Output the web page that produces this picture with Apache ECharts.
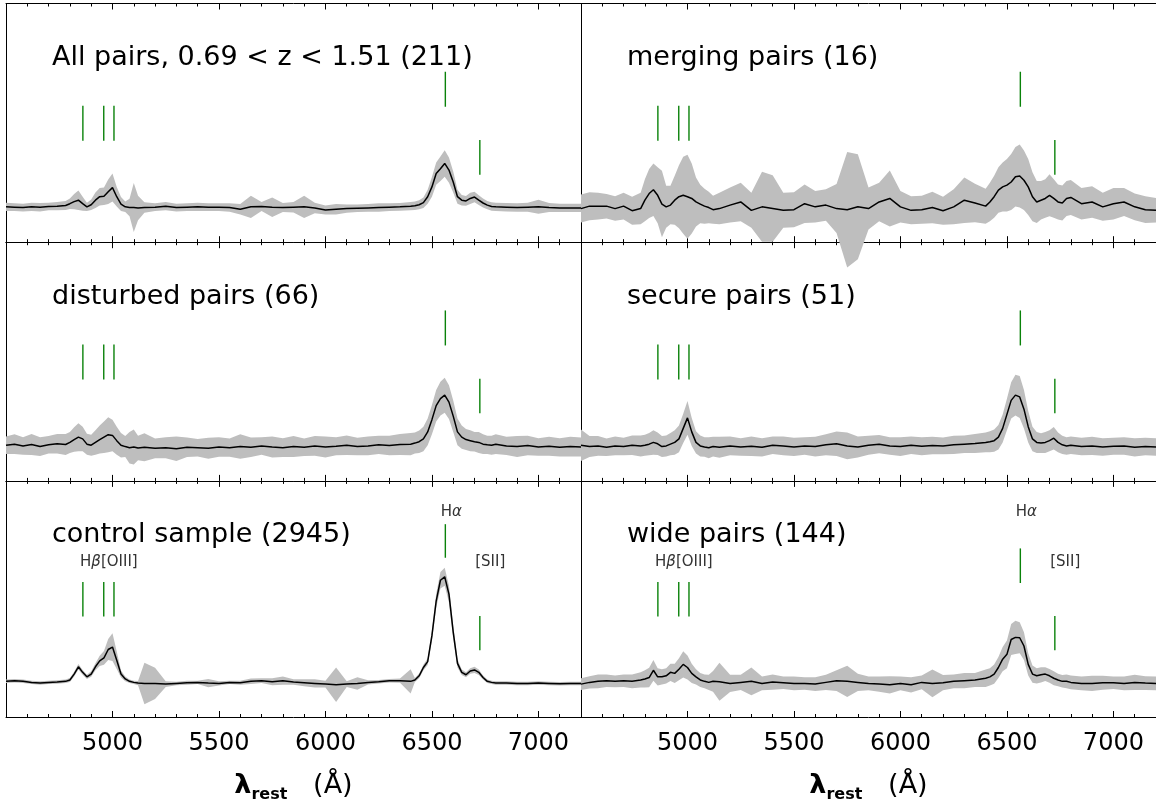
<!DOCTYPE html>
<html><head><meta charset="utf-8">
<script src="https://cdn.jsdelivr.net/npm/echarts@6/dist/echarts.min.js"></script>
<style>html,body{margin:0;padding:0;background:#fff}#c{width:1156px;height:804px}</style>
</head><body><div id="c"></div>
<script>
// ---------- DATA ----------
const wave = [
 4500,4540,4580,4620,4660,4700,4740,4780,
 4800,4820,4840,4860,4880,4900,4920,4940,4960,4980,5000,5020,5040,5060,5080,5100,5120,
 5150,
 5200,5250,5300,5350,5400,5450,5500,5550,5600,5650,5700,5750,5800,5850,5900,5950,6000,6050,6100,6150,6200,6250,6300,6350,6400,
 6420,6440,6460,6480,6500,6520,6540,6560,6580,6600,6620,6640,6660,6680,6700,6720,6740,6760,6780,6800,
 6850,6900,6950,7000,7050,7100,7150,7200
];
const panelTitles = [
 'All pairs, 0.69 < z < 1.51 (211)', 'merging pairs (16)',
 'disturbed pairs (66)', 'secure pairs (51)',
 'control sample (2945)', 'wide pairs (144)'
];
// mean normalised flux (continuum = 1) and 1-sigma spread
const meanAll = [
 1.01,1.00,0.99,1.01,1.00,1.02,1.03,1.05,
 1.10,1.16,1.20,1.10,1.01,1.07,1.20,1.30,1.31,1.44,1.56,1.30,1.09,1.01,0.99,0.99,0.98,
 0.99,
 1.00,1.03,0.99,1.00,1.01,1.00,1.00,0.99,0.94,1.01,1.02,1.00,0.99,1.00,1.01,0.98,0.92,0.94,0.96,0.97,0.98,0.99,1.00,1.01,1.03,
 1.04,1.07,1.13,1.30,1.58,1.96,2.10,2.25,2.06,1.72,1.30,1.20,1.18,1.25,1.29,1.20,1.12,1.06,1.02,1.01,
 1.00,0.99,1.00,1.01,0.99,0.98,0.98,0.98
];
const sigAll = [
 0.12,0.11,0.11,0.12,0.12,0.11,0.12,0.13,
 0.15,0.22,0.28,0.20,0.12,0.15,0.22,0.25,0.25,0.35,0.40,0.28,0.20,0.15,0.25,0.70,0.35,
 0.15,
 0.11,0.12,0.11,0.11,0.12,0.11,0.11,0.12,0.15,0.32,0.13,0.28,0.13,0.15,0.32,0.15,0.13,0.15,0.12,0.11,0.11,0.12,0.11,0.11,0.12,
 0.12,0.13,0.15,0.20,0.28,0.32,0.35,0.38,0.36,0.30,0.20,0.15,0.14,0.16,0.15,0.14,0.13,0.12,0.12,0.12,
 0.12,0.12,0.13,0.20,0.13,0.12,0.12,0.12
];
const meanMerg = [
 0.96,1.03,1.03,1.03,0.96,1.03,0.90,0.96,
 1.20,1.39,1.50,1.34,1.09,1.01,1.06,1.20,1.30,1.34,1.30,1.25,1.15,1.09,1.03,0.99,0.93,
 0.96,
 1.06,1.15,0.91,1.01,0.96,0.91,0.93,1.10,1.01,1.06,0.96,0.93,1.01,0.96,1.15,1.25,1.01,0.91,0.93,0.99,0.90,1.01,1.20,1.12,1.03,
 1.15,1.30,1.49,1.58,1.63,1.72,1.87,1.89,1.77,1.58,1.30,1.15,1.20,1.25,1.34,1.25,1.15,1.12,1.25,1.28,
 1.10,1.15,1.01,1.10,1.15,1.01,0.93,0.91
];
const sigMerg = [
 0.40,0.40,0.38,0.35,0.35,0.38,0.40,0.45,
 0.60,0.70,0.75,0.80,0.95,0.60,0.55,0.70,0.90,1.10,1.20,1.00,0.70,0.55,0.50,0.45,0.40,
 0.45,
 0.50,0.55,0.50,1.00,0.95,0.50,0.50,0.55,0.45,0.45,0.70,1.65,1.50,0.60,0.55,0.80,0.45,0.40,0.40,0.45,0.40,0.50,0.65,0.55,0.50,
 0.55,0.60,0.65,0.70,0.75,0.80,0.85,0.90,0.85,0.80,0.70,0.60,0.55,0.55,0.60,0.55,0.50,0.50,0.50,0.50,
 0.45,0.45,0.40,0.45,0.40,0.38,0.38,0.35
];
const meanDist = [
 1.02,1.05,1.00,1.04,0.98,1.03,1.06,1.04,
 1.10,1.18,1.25,1.20,1.05,1.02,1.10,1.18,1.25,1.32,1.30,1.15,1.02,0.98,0.95,0.97,0.94,
 0.96,
 0.93,0.95,0.92,0.96,0.95,0.93,0.97,0.95,0.98,0.96,1.00,0.97,0.95,0.98,0.96,1.00,0.97,0.99,1.02,0.98,1.00,1.03,1.01,1.04,1.05,
 1.08,1.12,1.20,1.40,1.75,2.15,2.35,2.45,2.25,1.85,1.40,1.25,1.18,1.15,1.12,1.10,1.05,1.03,1.02,1.05,
 1.00,0.98,1.01,0.97,0.99,0.96,0.98,0.97
];
const sigDist = [
 0.25,0.28,0.25,0.30,0.27,0.25,0.28,0.30,
 0.30,0.35,0.40,0.35,0.30,0.30,0.35,0.40,0.45,0.50,0.45,0.40,0.35,0.30,0.45,0.50,0.35,
 0.40,
 0.28,0.30,0.35,0.28,0.25,0.30,0.28,0.26,0.35,0.28,0.25,0.30,0.27,0.30,0.25,0.28,0.30,0.26,0.28,0.25,0.27,0.26,0.28,0.30,0.32,
 0.30,0.32,0.35,0.38,0.42,0.45,0.48,0.50,0.48,0.45,0.38,0.33,0.30,0.30,0.28,0.30,0.28,0.26,0.27,0.28,
 0.26,0.30,0.28,0.25,0.27,0.26,0.28,0.27
];
const meanSec = [
 1.02,0.98,1.00,0.96,1.00,0.98,1.02,1.00,
 1.02,1.05,1.10,1.06,0.98,1.00,1.05,1.10,1.20,1.50,1.80,1.40,1.10,1.00,0.97,0.95,0.98,
 0.96,
 1.00,0.97,0.99,0.96,1.02,1.00,0.97,1.00,0.98,1.03,1.06,1.00,0.97,1.02,1.05,1.00,0.98,1.02,0.99,1.01,1.00,1.03,1.05,1.07,1.10,
 1.12,1.15,1.25,1.50,1.90,2.30,2.45,2.40,2.05,1.55,1.20,1.10,1.08,1.10,1.15,1.22,1.10,1.03,1.00,1.02,
 0.98,1.00,0.97,0.99,1.00,0.96,0.98,0.97
];
const sigSec = [
 0.45,0.30,0.28,0.25,0.27,0.25,0.28,0.30,
 0.30,0.32,0.35,0.32,0.30,0.30,0.32,0.35,0.38,0.42,0.48,0.40,0.32,0.30,0.28,0.30,0.28,
 0.30,
 0.27,0.25,0.28,0.26,0.25,0.27,0.26,0.25,0.28,0.30,0.35,0.38,0.30,0.27,0.26,0.25,0.27,0.25,0.26,0.25,0.24,0.26,0.25,0.27,0.28,
 0.30,0.32,0.35,0.40,0.45,0.52,0.58,0.60,0.55,0.45,0.35,0.30,0.28,0.30,0.30,0.32,0.28,0.26,0.25,0.25,
 0.25,0.26,0.25,0.24,0.25,0.26,0.25,0.25
];
const meanCtrl = [
 1.03,1.05,1.03,1.00,0.98,1.00,1.01,1.03,
 1.07,1.24,1.45,1.29,1.16,1.24,1.45,1.62,1.71,1.95,2.02,1.64,1.24,1.10,1.03,1.00,0.98,
 0.97,
 0.97,0.95,0.97,0.99,1.00,0.98,0.97,1.00,0.99,1.03,1.05,1.02,1.05,1.01,0.99,0.97,0.95,0.93,0.95,0.97,1.00,1.02,1.05,1.05,1.03,
 1.07,1.19,1.43,1.60,2.35,3.35,3.95,4.05,3.55,2.45,1.55,1.29,1.22,1.33,1.36,1.29,1.14,1.03,1.00,0.98,
 0.98,0.97,0.97,0.98,0.97,0.96,0.97,0.97
];
const sigCtrl = [
 0.05,0.05,0.05,0.05,0.05,0.05,0.05,0.05,
 0.06,0.07,0.08,0.07,0.06,0.08,0.10,0.15,0.20,0.30,0.40,0.25,0.10,0.07,0.05,0.05,0.06,
 0.60,
 0.45,0.08,0.05,0.06,0.05,0.12,0.06,0.05,0.06,0.08,0.07,0.10,0.12,0.08,0.10,0.12,0.10,0.50,0.08,0.18,0.06,0.05,0.05,0.06,0.35,
 0.06,0.07,0.08,0.10,0.14,0.20,0.24,0.26,0.24,0.18,0.12,0.08,0.07,0.08,0.09,0.08,0.06,0.05,0.05,0.05,
 0.05,0.05,0.05,0.05,0.05,0.05,0.05,0.05
];
const meanWide = [
 0.95,1.00,1.03,1.05,1.03,1.05,1.03,1.07,
 1.10,1.14,1.35,1.16,1.16,1.19,1.29,1.26,1.38,1.52,1.43,1.26,1.16,1.07,1.03,1.00,1.03,
 1.02,
 0.97,1.00,1.03,0.97,1.01,0.99,0.97,0.97,0.95,1.00,1.05,1.03,1.00,0.97,0.95,0.93,0.97,0.93,1.00,0.97,0.99,1.03,1.05,1.07,1.12,
 1.16,1.24,1.43,1.67,1.81,2.24,2.30,2.29,2.05,1.52,1.24,1.19,1.22,1.24,1.19,1.12,1.07,1.03,1.03,1.00,
 0.97,0.97,0.99,0.99,0.97,1.00,0.98,0.97
];
const sigWide = [
 0.17,0.18,0.20,0.18,0.17,0.18,0.20,0.22,
 0.25,0.28,0.30,0.25,0.22,0.22,0.25,0.28,0.32,0.38,0.35,0.28,0.22,0.20,0.20,0.22,0.30,
 0.55,
 0.25,0.22,0.40,0.20,0.22,0.18,0.20,0.18,0.20,0.22,0.30,0.45,0.25,0.20,0.22,0.25,0.20,0.22,0.20,0.40,0.22,0.20,0.22,0.20,0.25,
 0.25,0.28,0.30,0.35,0.40,0.45,0.48,0.45,0.40,0.32,0.25,0.22,0.22,0.20,0.20,0.20,0.18,0.18,0.20,0.20,
 0.20,0.22,0.20,0.18,0.20,0.22,0.20,0.20
];
const panelMeans = [meanAll, meanMerg, meanDist, meanSec, meanCtrl, meanWide];
const panelSigs  = [sigAll, sigMerg, sigDist, sigSec, sigCtrl, sigWide];

// emission-line markers: Hbeta, [OIII]4959, [OIII]5007, Halpha, [SII]
const markerWaves  = [4861, 4959, 5007, 6563, 6725];
const markerBottom = [2.90, 2.90, 2.90, 3.87, 1.93];
const markerTop    = [3.90, 3.90, 3.90, 4.87, 2.92];
const haMarkerBottom = [3.87, 3.87, 3.87, 3.87, 4.60, 3.87];
const haMarkerTop    = [4.87, 4.87, 4.87, 4.87, 5.57, 4.87];
const lineLabels     = ['Hβ[OIII]', 'Hα', '[SII]'];
const lineLabelWave  = [4983, 6591, 6774];
const lineLabelFlux  = [4.47, 5.93, 4.47];
const labelledPanels = [4, 5];
const xTicks = [5000, 5500, 6000, 6500, 7000];

// ---------- LAYOUT ----------
const colLeft = [6, 581];
const colWidth = [575, 576];
const rowTop = [3.5, 242.2, 480.9];
const gridH = 238.7;
const yMax = gridH / 35;
const FONT = '"DejaVu Sans", sans-serif';

const grids = [], xAxes = [], yAxes = [], series = [], titles = [];
for (let g = 0; g < 6; g++) {
  const row = Math.floor(g / 2), col = g % 2;
  grids.push({left: colLeft[col], top: rowTop[row], width: colWidth[col], height: gridH, containLabel: false});
  const bottomRow = row === 2;
  const common = {
    gridIndex: g, type: 'value', min: 4500, max: 7200, interval: 500,
    axisLine: {show: true, onZero: false, lineStyle: {color: '#000', width: 1}},
    axisTick: {show: true, inside: true, length: 6, lineStyle: {color: '#000', width: 1}},
    minorTick: {show: true, splitNumber: 5, length: 3, lineStyle: {color: '#000', width: 1}},
    splitLine: {show: false}, minorSplitLine: {show: false}
  };
  xAxes.push(Object.assign({}, common, {
    position: 'bottom',
    axisLabel: {show: bottomRow, margin: 15, fontSize: 24, color: '#000', fontFamily: FONT,
      showMinLabel: false, showMaxLabel: false,
      formatter: v => xTicks.indexOf(v) >= 0 ? String(v) : ''},
    name: bottomRow ? '{l|λ}{s|rest}{p|   (Å)}' : '',
    nameLocation: 'middle', nameGap: 52,
    nameTextStyle: {fontFamily: FONT, color: '#000', rich: {
      l: {fontSize: 27, fontWeight: 'bold', fontFamily: FONT, lineHeight: 34, verticalAlign: 'middle'},
      s: {fontSize: 16, fontWeight: 'bold', fontFamily: FONT, lineHeight: 34, verticalAlign: 'bottom'},
      p: {fontSize: 27, fontFamily: FONT, lineHeight: 34, verticalAlign: 'middle'}
    }}
  }));
  xAxes.push(Object.assign({}, common, {position: 'top', axisLabel: {show: false}}));
  const yCommon = {gridIndex: g, type: 'value', min: 0, max: yMax,
    axisLine: {show: true, onZero: false, lineStyle: {color: '#000', width: 1}},
    axisTick: {show: false}, axisLabel: {show: false}, splitLine: {show: false}};
  yAxes.push(Object.assign({}, yCommon, {position: 'left'}));
  yAxes.push(Object.assign({}, yCommon, {position: 'right'}));

  titles.push({text: panelTitles[g], left: colLeft[col] + 46, top: rowTop[row] + 41, padding: 0,
    textStyle: {fontSize: 27, fontWeight: 'normal', fontFamily: FONT, color: '#000'}});

  const mean = panelMeans[g], sig = panelSigs[g];
  const n = Math.min(wave.length, mean.length, sig.length);
  // grey spread band
  series.push({
    type: 'custom', xAxisIndex: 2 * g, yAxisIndex: 2 * g, silent: true, clip: false, z: 1,
    data: [[wave[0], mean[0]]],
    renderItem: (params, api) => {
      const up = [], lo = [];
      for (let i = 0; i < n; i++) {
        up.push(api.coord([wave[i], mean[i] + sig[i]]));
        lo.push(api.coord([wave[i], mean[i] - sig[i]]));
      }
      return {type: 'polygon', shape: {points: up.concat(lo.reverse())}, style: {fill: '#bebebe'}};
    }
  });
  // mean spectrum
  series.push({
    type: 'line', xAxisIndex: 2 * g, yAxisIndex: 2 * g, silent: true, z: 3,
    showSymbol: false, symbol: 'none', animation: false,
    lineStyle: {color: '#000', width: 1.5},
    data: wave.slice(0, n).map((w, i) => [w, mean[i]])
  });
  // green line markers
  series.push({
    type: 'custom', xAxisIndex: 2 * g, yAxisIndex: 2 * g, silent: true, z: 4,
    data: markerWaves.map((w, k) => [w, k === 3 ? haMarkerBottom[g] : markerBottom[k], k === 3 ? haMarkerTop[g] : markerTop[k]]),
    encode: {x: 0, y: [1, 2]},
    renderItem: (params, api) => {
      const p0 = api.coord([api.value(0), api.value(1)]);
      const p1 = api.coord([api.value(0), api.value(2)]);
      return {type: 'line', shape: {x1: p0[0], y1: p0[1], x2: p0[0], y2: p1[1]},
        style: {stroke: '#0a820a', lineWidth: 1.4}};
    }
  });
  if (labelledPanels.indexOf(g) >= 0) {
    series.push({
      type: 'custom', xAxisIndex: 2 * g, yAxisIndex: 2 * g, silent: true, z: 4,
      data: lineLabelWave.map((w, k) => [w, lineLabelFlux[k]]),
      renderItem: (params, api) => {
        const p = api.coord([api.value(0), api.value(1)]);
        const t = lineLabels[params.dataIndex];
        const rt = t.replace('β', '{i|β}').replace('α', '{i|α}');
        return {type: 'text', x: p[0], y: p[1], style: {
          text: rt, fill: '#333', font: '15px ' + FONT, align: 'center', verticalAlign: 'middle',
          rich: {i: {fontStyle: 'italic', fontSize: 15, fontFamily: FONT, fill: '#333'}}
        }};
      }
    });
  }
}

const chart = echarts.init(document.getElementById('c'), null, {renderer: 'canvas'});
chart.setOption({
  animation: false,
  backgroundColor: '#fff',
  title: titles,
  grid: grids,
  xAxis: xAxes,
  yAxis: yAxes,
  series: series
});
</script>
</body></html>
